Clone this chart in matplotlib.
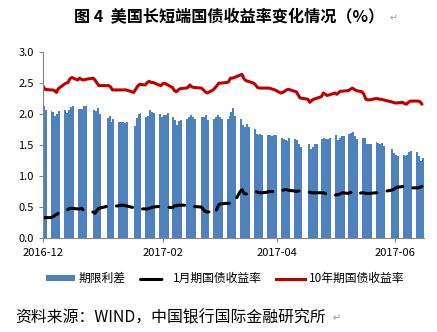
import matplotlib
matplotlib.use("Agg")
import matplotlib.pyplot as plt
import matplotlib.dates as mdates
from matplotlib.lines import Line2D
from matplotlib.patches import Patch
import pandas as pd

plt.rcParams['font.family'] = ['Noto Sans CJK SC', 'DejaVu Sans']

# US trading days, Dec 2016 - mid Jun 2017 (market holidays excluded)
HOLIDAYS = ["2016-12-26", "2017-01-02", "2017-01-16", "2017-02-20",
            "2017-04-14", "2017-05-29"]
dates = pd.bdate_range("2016-12-01", "2017-06-15")
dates = dates[~dates.isin(pd.to_datetime(HOLIDAYS))]

# term spread (10y - 1m), %
spread = [
    2.13, 2.06,
    2.05, 2.04, 1.97, 2.00, 2.05,
    2.07, 2.02, 2.06, 2.11, 2.13,
    2.08, 2.08, 2.08, 2.13, 2.13,
    2.06, 2.05, 2.10, 2.00,
    1.93, 1.97, 1.87, 1.92,
    1.88, 1.88, 1.88, 1.85, 1.88,
    1.81, 1.93, 2.00, 2.02,
    1.96, 1.97, 2.06, 2.03, 2.02,
    2.00, 1.96, 1.99, 1.99, 2.02,
    1.95, 1.91, 1.83, 1.89, 1.91,
    1.92, 1.95, 1.99, 1.96, 1.92,
    1.95, 1.96, 1.99, 1.91,
    1.92, 1.96, 1.99, 1.96, 1.92,
    1.92, 1.97, 2.04, 2.10, 1.97,
    1.92, 1.83, 1.79, 1.84, 1.79,
    1.76, 1.68, 1.67, 1.68, 1.67,
    1.66, 1.67, 1.65, 1.67, 1.66,
    1.62, 1.60, 1.59, 1.57, 1.62,
    1.60, 1.59, 1.51, 1.47,
    1.51, 1.44, 1.47, 1.52, 1.52,
    1.60, 1.62, 1.60, 1.60, 1.62,
    1.67, 1.59, 1.62, 1.65, 1.65,
    1.68, 1.69, 1.71, 1.65, 1.60,
    1.62, 1.62, 1.52, 1.51, 1.52,
    1.55, 1.53, 1.52, 1.53, 1.49,
    1.44, 1.37, 1.34, 1.33,
    1.34, 1.32, 1.34, 1.39, 1.41,
    1.39, 1.33, 1.25, 1.29,
]

# 1-month T-bill yield, %
y1m = [
    0.32, 0.33,
    0.33, 0.34, 0.36, 0.38, 0.40,
    0.42, 0.44, 0.46, 0.48, 0.48,
    0.47, 0.47, 0.48, 0.45, 0.43,
    0.42, 0.40, 0.45, 0.48,
    0.51, 0.52, 0.52, 0.51,
    0.52, 0.53, 0.53, 0.53, 0.52,
    0.49, 0.47, 0.47, 0.47,
    0.47, 0.47, 0.48, 0.49, 0.50,
    0.51, 0.51, 0.51, 0.51, 0.50,
    0.49, 0.52, 0.52, 0.53, 0.53,
    0.53, 0.54, 0.53, 0.51, 0.51,
    0.50, 0.46, 0.43, 0.42,
    0.43, 0.40, 0.47, 0.54, 0.55,
    0.56, 0.56, 0.56, 0.56, 0.58,
    0.75, 0.78, 0.72, 0.71, 0.72,
    0.74, 0.75, 0.74, 0.73, 0.73,
    0.74, 0.75, 0.75, 0.75, 0.76,
    0.77, 0.77, 0.78, 0.78, 0.77,
    0.76, 0.75, 0.76, 0.76,
    0.74, 0.74, 0.73, 0.73, 0.73,
    0.73, 0.73, 0.72, 0.70, 0.69,
    0.69, 0.70, 0.70, 0.72, 0.73,
    0.72, 0.74, 0.72, 0.70, 0.71,
    0.73, 0.73, 0.72, 0.72, 0.72,
    0.73, 0.73, 0.74, 0.75, 0.75,
    0.77, 0.78, 0.80, 0.82,
    0.83, 0.83, 0.83, 0.82, 0.81,
    0.81, 0.81, 0.82, 0.83,
]

# 10-year Treasury yield, %
y10y = [
    2.46, 2.40,
    2.39, 2.39, 2.38, 2.35, 2.41,
    2.48, 2.50, 2.51, 2.57, 2.59,
    2.55, 2.58, 2.56, 2.55, 2.56,
    2.58, 2.55, 2.50, 2.46,
    2.46, 2.46, 2.44, 2.39,
    2.39, 2.39, 2.39, 2.39, 2.39,
    2.35, 2.40, 2.45, 2.48,
    2.47, 2.51, 2.53, 2.51, 2.51,
    2.47, 2.46, 2.49, 2.50, 2.48,
    2.43, 2.38, 2.36, 2.39, 2.41,
    2.42, 2.43, 2.47, 2.44, 2.43,
    2.42, 2.39, 2.36, 2.34,
    2.39, 2.42, 2.46, 2.50, 2.50,
    2.51, 2.52, 2.58, 2.58, 2.59,
    2.63, 2.64, 2.57, 2.54, 2.53,
    2.50, 2.47, 2.43, 2.42, 2.42,
    2.42, 2.42, 2.41, 2.40, 2.39,
    2.34, 2.35, 2.37, 2.39, 2.40,
    2.37, 2.36, 2.31, 2.26,
    2.24, 2.19, 2.22, 2.24, 2.25,
    2.28, 2.34, 2.32, 2.30, 2.31,
    2.34, 2.32, 2.35, 2.37, 2.37,
    2.38, 2.40, 2.42, 2.40, 2.38,
    2.36, 2.32, 2.24, 2.23, 2.23,
    2.25, 2.25, 2.24, 2.24, 2.23,
    2.20, 2.19, 2.18, 2.18,
    2.19, 2.17, 2.16, 2.19, 2.21,
    2.21, 2.21, 2.20, 2.16,
]

BLUE, RED = "#4F81BD", "#C00000"
LABELS = ["期限利差", "1月期国债收益率", "10年期国债收益率"]

fig = plt.figure(figsize=(4.37, 3.32), dpi=100)
ax = fig.add_axes([0.098, 0.283, 0.872, 0.56])

ax.bar(dates, spread, width=1.0, align="edge", color=BLUE, linewidth=0)
ax.plot(dates, y1m, color="black", lw=2.2, dashes=[5.4, 3.4],
        dash_capstyle="round")
ax.plot(dates, y10y, color=RED, lw=2.2, solid_capstyle="round")

ax.set_ylim(0, 3.0)
ax.set_yticks([0, 0.5, 1.0, 1.5, 2.0, 2.5, 3.0])
ax.set_yticklabels([f"{v:.1f}" for v in ax.get_yticks()])
ax.set_xlim(pd.Timestamp("2016-12-01"), pd.Timestamp("2017-06-16"))
ax.xaxis.set_major_locator(mdates.MonthLocator(bymonth=[2, 4, 6, 12]))
ax.xaxis.set_major_formatter(mdates.DateFormatter("%Y-%m"))

for s in ("top", "right"):
    ax.spines[s].set_visible(False)
for s in ("left", "bottom"):
    ax.spines[s].set_color("#868686")
    ax.spines[s].set_linewidth(0.8)
ax.tick_params(axis="both", colors="#868686", labelcolor="black",
               labelsize=8, length=3, width=0.8)
ax.tick_params(axis="x", pad=4)

# legend keys: the dashed series shows a single dash in its key
handles = [Patch(facecolor=BLUE, edgecolor="none"),
           Line2D([], [], color="black", lw=2.2, dashes=[7, 10],
                  dash_capstyle="round"),
           Line2D([], [], color=RED, lw=2.2)]
fig.legend(handles, LABELS, loc="center", bbox_to_anchor=(0.515, 0.16),
           ncol=3, frameon=False, fontsize=8.5, handlelength=2.5,
           handleheight=0.45, columnspacing=1.2, handletextpad=0.3)

fig.text(0.169, 0.948, "图 4  美国长短端国债收益率变化情况（%）", ha="left",
         va="center", fontsize=11.6, fontweight="bold")
fig.text(0.892, 0.944, "↵", ha="left", va="center", fontsize=7,
         color="#999999", family=["DejaVu Sans"])
fig.text(0.035, 0.042, "资料来源：WIND，中国银行国际金融研究所", ha="left",
         va="center", fontsize=11.4)
fig.text(0.762, 0.04, "↵", ha="left", va="center", fontsize=7,
         color="#999999", family=["DejaVu Sans"])

fig.savefig("out.png", dpi=100)
